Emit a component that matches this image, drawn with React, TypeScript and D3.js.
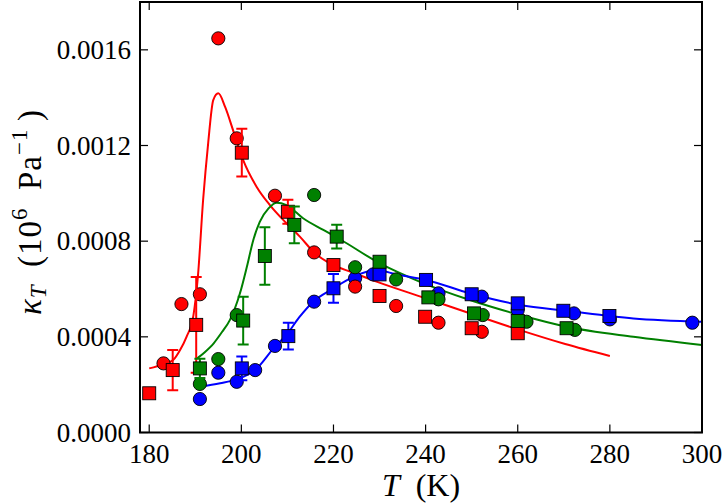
import React from "react";
import * as d3 from "d3";

// ---------- data ----------
const xTicks = [180, 200, 220, 240, 260, 280, 300];
const yTicks = [0, 0.0004, 0.0008, 0.0012, 0.0016];
const yTickLabels = ["0.0000", "0.0004", "0.0008", "0.0012", "0.0016"];

// red
const redCircleT = [183.1, 187.0, 191.0, 195.0, 199.0, 207.3, 215.8, 224.7, 233.6, 242.8, 252.2];
const redCircleK = [0.000289, 0.000537, 0.000578, 0.001648, 0.00123, 0.00099, 0.000753, 0.00061, 0.000529, 0.000459, 0.000421];
const redSquareT = [180.0, 185.1, 190.2, 200.1, 210.1, 220.0, 230.0, 239.9, 250.0, 260.0];
const redSquareK = [0.000164, 0.000261, 0.00045, 0.00117, 0.000923, 0.0007, 0.000571, 0.000484, 0.000436, 0.000415];
const redSquareErr = [0, 0.000084, 0.0002, 0.0001, 0.00005, 0.00002, 0, 0, 0, 0];
const redLineT = [180, 183, 185.2, 186.7, 188.1, 189.6, 190.6, 191.7, 192.8, 193.9, 195.0, 196.5, 198.3, 200.4, 203.3, 206.2, 209.8, 212.7, 216.0, 219.2, 224.3, 229.5, 239.9, 250.7, 260.5, 270.3, 280];
const redLineK = [0.000268, 0.000285, 0.000303, 0.000345, 0.0004, 0.00049, 0.00066, 0.000972, 0.00121, 0.00139, 0.001418, 0.00136, 0.001258, 0.001139, 0.001028, 0.000951, 0.000875, 0.000819, 0.000749, 0.000707, 0.000668, 0.00063, 0.000562, 0.000491, 0.000428, 0.00037, 0.00032];

// green
const greenCircleT = [191.0, 195.0, 199.0, 215.8, 224.7, 233.6, 242.8, 252.4, 261.9, 272.4];
const greenCircleK = [0.000203, 0.000307, 0.000491, 0.000993, 0.000691, 0.00064, 0.000557, 0.000491, 0.000463, 0.000429];
const greenSquareT = [191.0, 200.4, 205.1, 211.5, 220.7, 230.0, 240.6, 250.5, 260.0, 270.6];
const greenSquareK = [0.000268, 0.000468, 0.000738, 0.000868, 0.000819, 0.000714, 0.000565, 0.000498, 0.000466, 0.000436];
const greenSquareErr = [0.00004, 0.0001, 0.00012, 0.000077, 0.00005, 0.00002, 0, 0, 0, 0];
const greenLineT = [190.4, 192, 194.0, 195.8, 197.5, 199.7, 201.2, 202.6, 204.0, 205.9, 207.7, 209.8, 213.4, 217.8, 221.4, 230.1, 238.8, 249.6, 260.5, 270.6, 285.1, 300];
const greenLineK = [0.00031, 0.000335, 0.000373, 0.00042, 0.00047, 0.000582, 0.000693, 0.000805, 0.000881, 0.000937, 0.000961, 0.000951, 0.000896, 0.000847, 0.000808, 0.000707, 0.00063, 0.000554, 0.000491, 0.000442, 0.0004, 0.000366];

// blue
const blueCircleT = [191.0, 195.0, 199.0, 203.0, 207.3, 215.8, 224.7, 228.6, 242.8, 252.2, 260.0, 272.2, 280.0, 297.9];
const blueCircleK = [0.00014, 0.00025, 0.000212, 0.000261, 0.000362, 0.000547, 0.000645, 0.000661, 0.000582, 0.000568, 0.000512, 0.000498, 0.000473, 0.000459];
const blueSquareT = [200.1, 210.2, 220.0, 230.0, 240.1, 250.0, 260.0, 269.9, 279.9];
const blueSquareK = [0.000268, 0.000403, 0.000603, 0.000661, 0.000638, 0.000578, 0.00054, 0.000509, 0.000487];
const blueSquareErr = [0.00005, 0.000056, 0.00006, 0, 0, 0, 0, 0, 0];
const blueLineT = [191.0, 195.4, 199.0, 203.0, 207.3, 209.8, 212.5, 215.6, 220, 224.3, 229.4, 233.7, 240.1, 249.6, 260.5, 270.6, 285.1, 300];
const blueLineK = [0.000192, 0.000206, 0.000222, 0.000261, 0.000359, 0.000408, 0.00048, 0.000547, 0.000603, 0.000651, 0.000679, 0.000661, 0.000638, 0.000582, 0.000533, 0.000509, 0.000477, 0.000463];

const RED = "#ff0000";
const GREEN = "#008000";
const BLUE = "#0000ff";

// ---------- layout ----------
const W = 724, H = 504;
const L = 140, R = 702, T0 = 2, B = 432.5;
const FONT =
  '"Liberation Serif", "Times New Roman", Times, "Nimbus Roman", "Nimbus Roman No9 L", "FreeSerif", "DejaVu Serif", "Noto Serif", Tinos, serif';

const x = d3.scaleLinear().domain([178, 300]).range([L, R]);
const y = d3.scaleLinear().domain([0, 0.0018]).range([B, T0]);

const lineGen = d3
  .line<[number, number]>()
  .x((d) => x(d[0]))
  .y((d) => y(d[1]))
  .curve(d3.curveMonotoneX);

function zip(a: number[], b: number[]): [number, number][] {
  return a.map((v, i) => [v, b[i]]);
}

const MS = 13; // square side
const MR = 6.6; // circle radius

function Circles({ ts, ks, color }: { ts: number[]; ks: number[]; color: string }) {
  return (
    <g>
      {ts.map((t, i) => (
        <circle key={i} cx={x(t)} cy={y(ks[i])} r={MR} fill={color} stroke="#000" strokeWidth={0.9} />
      ))}
    </g>
  );
}

function Squares({ ts, ks, errs, color }: { ts: number[]; ks: number[]; errs: number[]; color: string }) {
  return (
    <g>
      {ts.map((t, i) => {
        const cx = x(t);
        const e = errs[i];
        if (!e) return null;
        const y1 = y(ks[i] + e), y2 = y(ks[i] - e);
        return (
          <g key={"e" + i} stroke={color} strokeWidth={2}>
            <line x1={cx} x2={cx} y1={y1} y2={y2} />
            <line x1={cx - 5.5} x2={cx + 5.5} y1={y1} y2={y1} />
            <line x1={cx - 5.5} x2={cx + 5.5} y1={y2} y2={y2} />
          </g>
        );
      })}
      {ts.map((t, i) => (
        <rect
          key={i}
          x={x(t) - MS / 2}
          y={y(ks[i]) - MS / 2}
          width={MS}
          height={MS}
          fill={color}
          stroke="#000"
          strokeWidth={0.9}
        />
      ))}
    </g>
  );
}

const textStyle = { fontFamily: FONT };

export default function App() {
  return (
    <svg
      width={W}
      height={H}
      style={{ position: "absolute", left: 0, top: 0, background: "#fff" }}
    >
      <rect x={0} y={0} width={W} height={H} fill="#fff" />
      <defs>
        <clipPath id="plotclip">
          <rect x={L} y={T0} width={R - L} height={B - T0} />
        </clipPath>
      </defs>

      <g clipPath="url(#plotclip)">
        <path d={lineGen(zip(redLineT, redLineK)) || ""} fill="none" stroke={RED} strokeWidth={2} />
        <path d={lineGen(zip(greenLineT, greenLineK)) || ""} fill="none" stroke={GREEN} strokeWidth={2} />
        <path d={lineGen(zip(blueLineT, blueLineK)) || ""} fill="none" stroke={BLUE} strokeWidth={2} />

        <Circles ts={blueCircleT} ks={blueCircleK} color={BLUE} />
        <Circles ts={redCircleT} ks={redCircleK} color={RED} />
        <Circles ts={greenCircleT} ks={greenCircleK} color={GREEN} />

        <Squares ts={blueSquareT} ks={blueSquareK} errs={blueSquareErr} color={BLUE} />
        <Squares ts={redSquareT} ks={redSquareK} errs={redSquareErr} color={RED} />
        <Squares ts={greenSquareT} ks={greenSquareK} errs={greenSquareErr} color={GREEN} />
      </g>

      {/* ticks */}
      <g stroke="#000" strokeWidth={1.2}>
        {xTicks.map((t) => (
          <g key={"xt" + t}>
            <line x1={x(t)} x2={x(t)} y1={B} y2={B - 8} />
            <line x1={x(t)} x2={x(t)} y1={T0} y2={T0 + 8} />
          </g>
        ))}
        {yTicks.map((v) => (
          <g key={"yt" + v}>
            <line x1={L} x2={L + 8} y1={y(v)} y2={y(v)} />
            <line x1={R} x2={R - 8} y1={y(v)} y2={y(v)} />
          </g>
        ))}
      </g>

      {/* frame */}
      <rect x={L} y={T0} width={R - L} height={B - T0} fill="none" stroke="#000" strokeWidth={2} />

      {/* tick labels */}
      <g fontSize={27} fill="#000" style={textStyle}>
        {xTicks.map((t) => (
          <text key={"xl" + t} x={x(t)} y={463} textAnchor="middle" style={textStyle}>
            {t}
          </text>
        ))}
        {yTicks.map((v, i) => (
          <text key={"yl" + v} x={131} y={y(v) + 9} textAnchor="end" style={textStyle}>
            {yTickLabels[i]}
          </text>
        ))}
      </g>

      {/* x title */}
      <text x={(L + R) / 2} y={496} fontSize={32} textAnchor="middle" fill="#000" style={textStyle}>
        <tspan fontStyle="italic">T</tspan>
        <tspan>{"\u2002(K)"}</tspan>
      </text>

      {/* y title */}
      <text
        transform={`translate(41, 212) rotate(-90)`}
        fontSize={33}
        textAnchor="middle"
        fill="#000"
        style={textStyle}
        letterSpacing={1}
      >
        <tspan fontStyle="italic">κ</tspan>
        <tspan fontStyle="italic" fontSize={23} dy={5}>T</tspan>
        <tspan dy={-5}>{"\u2002(10"}</tspan>
        <tspan fontSize={23} dy={-14}>6</tspan>
        <tspan dy={14}>{"\u2002Pa"}</tspan>
        <tspan fontSize={23} dy={-14}>{"\u22121"}</tspan>
        <tspan dy={14}>{"\u2009)"}</tspan>
      </text>
    </svg>
  );
}
